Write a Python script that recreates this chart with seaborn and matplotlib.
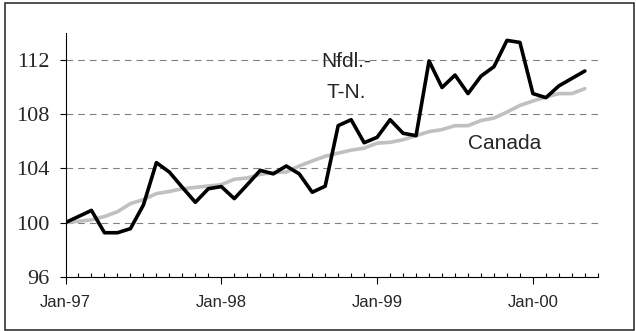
import matplotlib
matplotlib.use("Agg")
import matplotlib.pyplot as plt
from matplotlib.patches import Rectangle
import numpy as np
import pandas as pd
import seaborn as sns

# Monthly index values, Jan-97 = 100 (Jan-97 .. May-00)
nfld = [100.0, 100.45, 100.9, 99.25, 99.25, 99.55, 101.3, 104.43, 103.73, 102.6,
        101.5, 102.5, 102.66, 101.77, 102.8, 103.86, 103.6, 104.18, 103.6, 102.24,
        102.69, 107.16, 107.6, 105.9, 106.3, 107.6, 106.6, 106.42, 111.94, 109.98,
        110.9, 109.53, 110.82, 111.52, 113.46, 113.31, 109.53, 109.23, 110.1, 110.65,
        111.2]
canada = [100.0, 100.1, 100.2, 100.45, 100.8, 101.4, 101.7, 102.14, 102.3, 102.5,
          102.6, 102.7, 102.8, 103.2, 103.3, 103.56, 103.7, 103.73, 104.18, 104.55,
          104.9, 105.13, 105.35, 105.5, 105.87, 105.93, 106.12, 106.42, 106.72, 106.87,
          107.16, 107.16, 107.54, 107.72, 108.16, 108.66, 108.98, 109.28, 109.53, 109.53,
          109.9]
month = list(range(len(nfld)))
year_ticks = [0, 12, 24, 36]
year_labels = ["Jan-97", "Jan-98", "Jan-99", "Jan-00"]
y_ticks = [96, 100, 104, 108, 112]

df = pd.DataFrame({
    "month": month * 2,
    "value": canada + nfld,
    "region": ["Canada"] * len(canada) + ["Nfdl.-T-N."] * len(nfld),
})

sns.set_theme(style="white")
plt.rcParams["font.family"] = ["Liberation Sans", "DejaVu Sans"]

fig = plt.figure(figsize=(6.36, 3.31), dpi=100)
ax = fig.add_axes([0.103, 0.164, 0.837, 0.736])

sns.lineplot(data=df, x="month", y="value", hue="region",
             palette={"Canada": "#c0c0c0", "Nfdl.-T-N.": "#000000"},
             linewidth=2.6, legend=False, ax=ax, sort=False)

ax.set_xlim(0, 41)
ax.set_ylim(96, 114)

# dashed horizontal gridlines
for v in y_ticks[1:]:
    ax.axhline(v, color="#808080", linewidth=0.8, linestyle=(0, (6, 4.5)), zorder=0)

ax.set_yticks(y_ticks)
ax.set_yticklabels([str(v) for v in y_ticks], family="Liberation Serif", fontsize=16)
ax.set_xticks(year_ticks)
ax.set_xticklabels(year_labels, fontsize=12)
ax.set_xticks(range(0, 42), minor=True)
ax.tick_params(axis="y", which="major", direction="out", length=4.3, width=0.8,
               color="black", pad=7, left=True)
ax.tick_params(axis="x", which="major", direction="out", length=5, width=0.8,
               color="black", pad=8, bottom=True)
ax.tick_params(axis="x", which="minor", direction="in", length=3, width=0.8,
               color="black", bottom=True)

for side in ["top", "right"]:
    ax.spines[side].set_visible(False)
for side in ["left", "bottom"]:
    ax.spines[side].set_color("black")
    ax.spines[side].set_linewidth(0.8)

ax.set_xlabel("")
ax.set_ylabel("")

ax.text(21.6, 109.23, "Nfdl.-\nT-N.", ha="center", va="baseline",
        multialignment="center", fontsize=15, linespacing=1.75)
ax.text(33.85, 105.43, "Canada", ha="center", va="baseline", fontsize=15)

fig.patches.append(Rectangle((0.0086, 0.003), 0.989, 0.988, transform=fig.transFigure,
                             fill=False, edgecolor="#222222", linewidth=1.1))

fig.savefig("out.png", dpi=100)
